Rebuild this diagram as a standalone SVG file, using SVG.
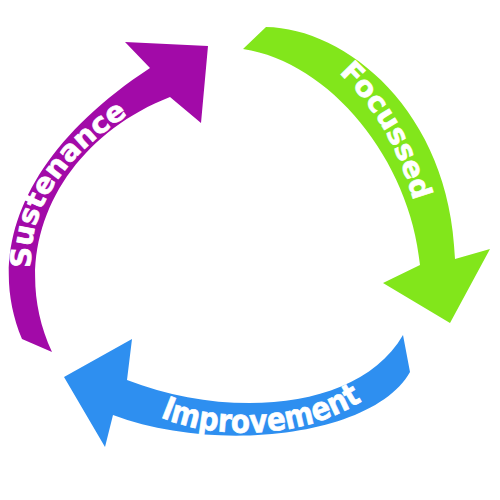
<svg xmlns="http://www.w3.org/2000/svg" width="500" height="500" viewBox="0 0 500 500">
<defs>
<style>
.lbl{font-family:"DejaVu Sans","Liberation Sans",sans-serif;font-weight:bold;fill:#ffffff;stroke:#ffffff;stroke-width:0.7;}
</style>
<path id="pS" d="M 31,268 C 29,215 56,160 133,112" fill="none"/>
<path id="pF" d="M 339,73 C 369,101 397,141 415,206" fill="none"/>
<path id="pI" d="M 160,417 C 210,439 300,441 362,401" fill="none"/>
</defs>
<rect width="500" height="500" fill="#ffffff"/>
<g id="connectors">
<g id="sustenance">
<path d="M 22,339 C -15,250 25,150 150,68 L 125,42 L 208,46 L 201,123 L 170,97 C 60,140 5,250 52,352 Z" fill="#A20AA8"/>
<text class="lbl" font-size="28"><textPath href="#pS" textLength="190" lengthAdjust="spacingAndGlyphs">Sustenance</textPath></text>
</g>
<g id="focussed">
<path d="M 243,49 L 266,27 C 345,28 450,110 455,259 L 490,249 L 450,323 L 383,283 L 420,265 C 410,160 330,62 243,49 Z" fill="#82E61B"/>
<text class="lbl" font-size="28"><textPath href="#pF" textLength="150" lengthAdjust="spacingAndGlyphs">Focussed</textPath></text>
</g>
<g id="improvement">
<path d="M 403,335 L 410,372 C 375,435 220,455 113,415 L 105,447 L 64,377 L 132,339 L 127,380 C 230,420 360,410 403,335 Z" fill="#2E8FF0"/>
<text class="lbl" font-size="32"><textPath href="#pI" textLength="210" lengthAdjust="spacingAndGlyphs">Improvement</textPath></text>
</g>
</g>
</svg>
